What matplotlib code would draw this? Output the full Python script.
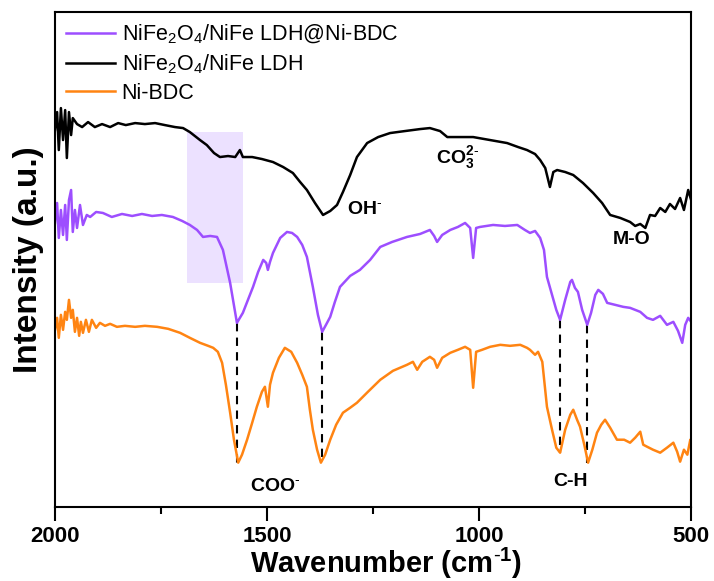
import numpy as np
import matplotlib
matplotlib.use('Agg')
import matplotlib.pyplot as plt
from matplotlib.ticker import MultipleLocator

plt.rcParams['font.family'] = ['Liberation Sans', 'DejaVu Sans']
plt.rcParams['mathtext.fontset'] = 'custom'
plt.rcParams['mathtext.rm'] = 'Liberation Sans'
plt.rcParams['mathtext.bf'] = 'Liberation Sans:bold'
plt.rcParams['mathtext.it'] = 'Liberation Sans:italic'

# FTIR spectra (wavenumber cm-1, intensity a.u.)
ldh_wn = [2000, 1995, 1991, 1986, 1981, 1976, 1972, 1967, 1962, 1958, 1948, 1936, 1922, 1906,
          1889, 1870, 1851, 1833, 1811, 1788, 1764, 1741, 1717, 1698, 1682, 1658, 1642, 1625,
          1611, 1592, 1575, 1564, 1557, 1535, 1512, 1486, 1462, 1439, 1422, 1406, 1387, 1368,
          1351, 1335, 1321, 1304, 1288, 1264, 1238, 1210, 1175, 1139, 1116, 1092, 1075, 1045,
          1014, 974, 934, 908, 887, 868, 856, 844, 833, 825, 816, 797, 778, 755, 731, 710,
          691, 667, 644, 632, 620, 608, 597, 585, 573, 561, 550, 538, 526, 517, 507, 500]
ldh_int = [377, 395, 357, 399, 367, 397, 349, 395, 372, 389, 383, 380, 385, 380,
           383, 380, 384, 382, 384, 383, 384, 382, 380, 379, 375, 367, 362, 354,
           350, 351, 350, 357, 350, 350, 348, 345, 340, 334, 325, 317, 304, 292,
           296, 302, 315, 332, 350, 364, 370, 374, 376, 378, 379, 376, 370, 370,
           370, 367, 364, 360, 357, 353, 347, 339, 320, 335, 337, 335, 332, 324, 314, 304,
           292, 289, 285, 281, 283, 279, 292, 291, 299, 295, 303, 298, 309, 297, 317, 307]

mof_ldh_wn = [2000, 1995, 1991, 1986, 1981, 1976, 1972, 1967, 1962, 1958, 1953, 1948, 1941, 1934,
              1925, 1917, 1903, 1887, 1866, 1842, 1818, 1795, 1771, 1748, 1722, 1700, 1682, 1665,
              1651, 1634, 1618, 1604, 1587, 1571, 1557, 1545, 1533, 1521, 1509, 1502, 1498, 1493,
              1486, 1469, 1453, 1441, 1429, 1417, 1406, 1392, 1380, 1370, 1361, 1351, 1340, 1328,
              1304, 1281, 1257, 1233, 1205, 1170, 1139, 1116, 1106, 1099, 1087, 1068, 1050, 1033,
              1021, 1014, 1007, 998, 967, 939, 910, 892, 880, 868, 856, 847, 840, 828, 818, 809,
              797, 785, 781, 774, 767, 757, 745, 736, 726, 719, 708, 698, 679, 660, 644, 620,
              604, 590, 573, 557, 542, 531, 521, 514, 507, 500]
mof_ldh_int = [284, 304, 269, 297, 272, 302, 267, 307, 317, 275, 297, 279, 302, 282,
               292, 290, 295, 294, 290, 293, 291, 293, 291, 292, 290, 286, 282, 277,
               270, 271, 270, 257, 224, 184, 194, 207, 220, 235, 247, 244, 237, 245,
               254, 269, 275, 274, 270, 262, 250, 220, 192, 175, 182, 190, 205, 220,
               231, 237, 247, 260, 265, 270, 273, 277, 271, 265, 272, 277, 280, 284,
               279, 249, 279, 280, 282, 281, 282, 277, 274, 276, 269, 257, 230, 212, 197, 187,
               207, 225, 227, 219, 215, 197, 182, 194, 212, 217, 213, 204, 202, 200, 199, 195,
               189, 187, 191, 182, 185, 176, 164, 182, 189, 185]

mof_wn = [2000, 1995, 1991, 1986, 1981, 1976, 1972, 1967, 1962, 1958, 1953, 1948, 1943, 1939,
          1934, 1927, 1920, 1913, 1903, 1894, 1882, 1870, 1854, 1835, 1811, 1788, 1759, 1733,
          1705, 1682, 1658, 1639, 1627, 1616, 1606, 1597, 1587, 1578, 1568, 1559, 1547, 1535,
          1524, 1512, 1505, 1498, 1493, 1486, 1472, 1458, 1443, 1429, 1417, 1406, 1399, 1392,
          1382, 1373, 1363, 1351, 1337, 1321, 1304, 1288, 1262, 1233, 1203, 1170, 1156, 1146,
          1134, 1116, 1106, 1099, 1087, 1068, 1050, 1033, 1021, 1014, 1007, 993, 974, 950,
          927, 903, 887, 880, 868, 861, 851, 840, 828, 818, 809, 797, 785, 778, 769, 762,
          752, 743, 733, 722, 712, 703, 691, 675, 658, 644, 632, 620, 613, 604, 590, 573,
          557, 542, 533, 526, 517, 509, 502, 500]
mof_int = [177, 189, 169, 192, 177, 195, 187, 207, 189, 197, 175, 189, 171, 185,
           174, 187, 175, 187, 179, 184, 181, 183, 180, 181, 180, 181, 180, 178,
           174, 169, 164, 161, 159, 155, 144, 122, 94, 67, 44, 52, 67, 84,
           100, 115, 120, 100, 122, 134, 149, 159, 155, 144, 132, 120, 97, 77,
           57, 44, 52, 67, 82, 94, 99, 104, 115, 127, 136, 142, 145, 137,
           145, 150, 147, 139, 149, 154, 157, 160, 157, 119, 155, 157, 160, 162,
           161, 162, 159, 157, 152, 155, 145, 100, 77, 59, 54, 77, 92, 97, 87, 80,
           62, 44, 57, 74, 82, 87, 79, 67, 67, 64, 69, 75, 62, 60, 57, 54,
           59, 64, 55, 45, 57, 52, 67, 62]

series_labels = ['NiFe$_2$O$_4$/NiFe LDH@Ni-BDC', 'NiFe$_2$O$_4$/NiFe LDH', 'Ni-BDC']
series_colors = ['#9D4EFF', 'black', '#FF8412']

# dashed guide lines at the Ni-BDC bands (COO- and C-H)
guide_wn = [1571, 1370, 809, 745]

fig = plt.figure(figsize=(7.14, 5.81), dpi=100)
ax = fig.add_axes([0.077, 0.128, 0.891, 0.851])

# highlighted band
ax.fill_between([1689, 1557], 224, 375, color='#E8DAFF', alpha=0.8, lw=0, zorder=0)

ax.plot(mof_ldh_wn, mof_ldh_int, color=series_colors[0], lw=1.8, label=series_labels[0])
ax.plot(ldh_wn, ldh_int, color=series_colors[1], lw=1.8, label=series_labels[1])
ax.plot(mof_wn, mof_int, color=series_colors[2], lw=1.8, label=series_labels[2])

for w in guide_wn:
    i_top = mof_ldh_int[int(np.argmin(np.abs(np.array(mof_ldh_wn) - w)))]
    i_bot = mof_int[int(np.argmin(np.abs(np.array(mof_wn) - w)))]
    ax.plot([w, w], [i_top, i_bot], color='black', ls=(0, (4, 3)), lw=1.5, zorder=1)

ax.text(1311, 297, 'OH$^{\\text{-}}$', fontsize=14, fontweight='bold', va='center')
ax.text(1101, 349, 'CO$_{\\mathbf{3}}^{\\mathbf{2}\\text{-}}$', fontsize=14, fontweight='bold', va='center')
ax.text(686, 267, 'M-O', fontsize=14, fontweight='bold', va='center')
ax.text(1540, 20, 'COO$^{\\text{-}}$', fontsize=14, fontweight='bold', va='center')
ax.text(825, 25, 'C-H', fontsize=14, fontweight='bold', va='center')

ax.set_xlim(2000, 500)
ax.set_ylim(0, 495)
ax.set_yticks([])
ax.xaxis.set_major_locator(MultipleLocator(500))
ax.xaxis.set_minor_locator(MultipleLocator(250))
ax.tick_params(axis='x', which='major', direction='out', length=10, width=1.5, labelsize=16, pad=4)
ax.tick_params(axis='x', which='minor', direction='out', length=5, width=1.5)
for lab in ax.get_xticklabels():
    lab.set_fontweight('bold')
for sp in ax.spines.values():
    sp.set_linewidth(1.5)

ax.set_xlabel('Wavenumber (cm$^{\\mathbf{\\text{-}1}}$)', fontsize=21, fontweight='bold', labelpad=0)
ax.xaxis.set_label_coords(0.52, -0.080)
ax.set_ylabel('Intensity (a.u.)', fontsize=24, fontweight='bold', labelpad=8)

ax.legend(loc='upper left', frameon=False, fontsize=15.5, handlelength=2.3, handletextpad=0.3,
          labelspacing=0.3, borderaxespad=0.2, borderpad=0.3)

plt.savefig('out.png', dpi=100)
plt.close()
